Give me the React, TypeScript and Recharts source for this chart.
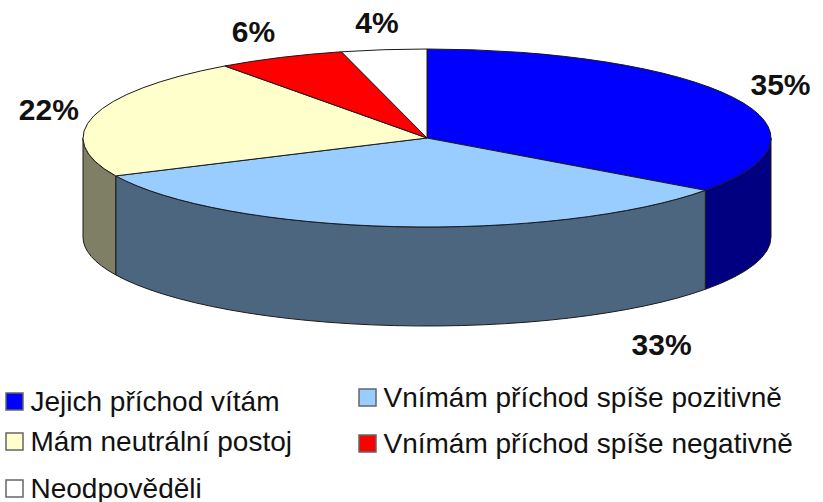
import React from 'react';
import { PieChart, Pie, Legend } from 'recharts';

const categories = [
  'Jejich příchod vítám',
  'Vnímám příchod spíše pozitivně',
  'Mám neutrální postoj',
  'Vnímám příchod spíše negativně',
  'Neodpověděli',
];
const shares = [35, 33, 22, 6, 4];
const topColors = ['#0000ff', '#99ccff', '#ffffcc', '#ff0000', '#ffffff'];
const wallColors = ['#000080', '#4d667f', '#7f7f66', '#800000', '#808080'];

const data = categories.map((name, i) => ({
  name,
  value: shares[i],
  fill: topColors[i],
  wall: wallColors[i],
}));

// flattening of the disc and height of its side wall
const SQUASH = 89 / 344;
const DEPTH = 99;

// where the labels were dragged to, relative to the slice's rim point
const labelNudge = [
  [47, -13],
  [267, 118],
  [-45, -6],
  [-27, -26],
  [-7, -27],
];

// legend slots: [swatch left, row centre]
const legendSlots = [
  [6, 401],
  [359, 397],
  [6, 441],
  [359, 443],
  [6, 488],
];

const RAD = Math.PI / 180;

const rimPoint = (cx: number, cy: number, r: number, deg: number) => [
  cx + r * Math.cos(deg * RAD),
  cy - r * SQUASH * Math.sin(deg * RAD),
];

const EllipseSlice = (props: any) => {
  const { cx, cy, outerRadius: r, startAngle, endAngle, fill, wall } = props;
  const ry = r * SQUASH;
  const [sx, sy] = rimPoint(cx, cy, r, startAngle);
  const [ex, ey] = rimPoint(cx, cy, r, endAngle);
  const large = startAngle - endAngle > 180 ? 1 : 0;

  // only the front half of the rim has a visible wall
  const hi = Math.min(startAngle, 0);
  const lo = Math.max(endAngle, -180);
  let wallPath = '';
  if (hi > lo) {
    const [ax, ay] = rimPoint(cx, cy, r, hi);
    const [bx, by] = rimPoint(cx, cy, r, lo);
    wallPath =
      `M${ax},${ay} A${r},${ry} 0 0 1 ${bx},${by} L${bx},${by + DEPTH} ` +
      `A${r},${ry} 0 0 0 ${ax},${ay + DEPTH} Z`;
  }

  return (
    <g>
      {wallPath && <path d={wallPath} fill={wall} stroke="#1a1a1a" strokeWidth={1} />}
      <path
        d={`M${cx},${cy} L${sx},${sy} A${r},${ry} 0 ${large} 1 ${ex},${ey} Z`}
        fill={fill}
        stroke="#1a1a1a"
        strokeWidth={1}
      />
    </g>
  );
};

const SliceLabel = (props: any) => {
  const { cx, cy, outerRadius, midAngle, index, value } = props;
  const [x, y] = rimPoint(cx, cy, outerRadius, midAngle);
  return (
    <text
      x={x + labelNudge[index][0]}
      y={y + labelNudge[index][1]}
      textAnchor="middle"
      dominantBaseline="central"
      fontFamily="Liberation Sans"
      fontWeight={700}
      fontSize={30}
      fill="#111"
    >
      {value}%
    </text>
  );
};

const PlacedLegend = () => (
  <svg width={823} height={502} style={{ position: 'absolute', left: 0, top: 0 }}>
    {data.map((d, i) => {
      const [x, y] = legendSlots[i];
      return (
        <g key={d.name}>
          <rect x={x} y={y - 8} width={17} height={17} fill={d.fill} stroke="#666" strokeWidth={1.5} />
          <text
            x={x + 24.5}
            y={y}
            dominantBaseline="central"
            fontFamily="Liberation Sans"
            fontSize={28}
            fill="#111"
          >
            {d.name}
          </text>
        </g>
      );
    })}
  </svg>
);

export default function App() {
  return (
    <div style={{ position: 'absolute', left: 0, top: 0, width: 823, height: 502, background: '#fff' }}>
      <PieChart width={823} height={502} margin={{ top: 0, right: 0, bottom: 0, left: 0 }}>
        <Pie
          data={data}
          dataKey="value"
          nameKey="name"
          cx={427}
          cy={138}
          outerRadius={344}
          startAngle={90}
          endAngle={-270}
          stroke="none"
          shape={EllipseSlice}
          label={SliceLabel}
          labelLine={false}
          isAnimationActive={false}
        />
        <Legend content={<PlacedLegend />} wrapperStyle={{ left: 0, top: 0, width: 823, height: 502 }} />
      </PieChart>
    </div>
  );
}
